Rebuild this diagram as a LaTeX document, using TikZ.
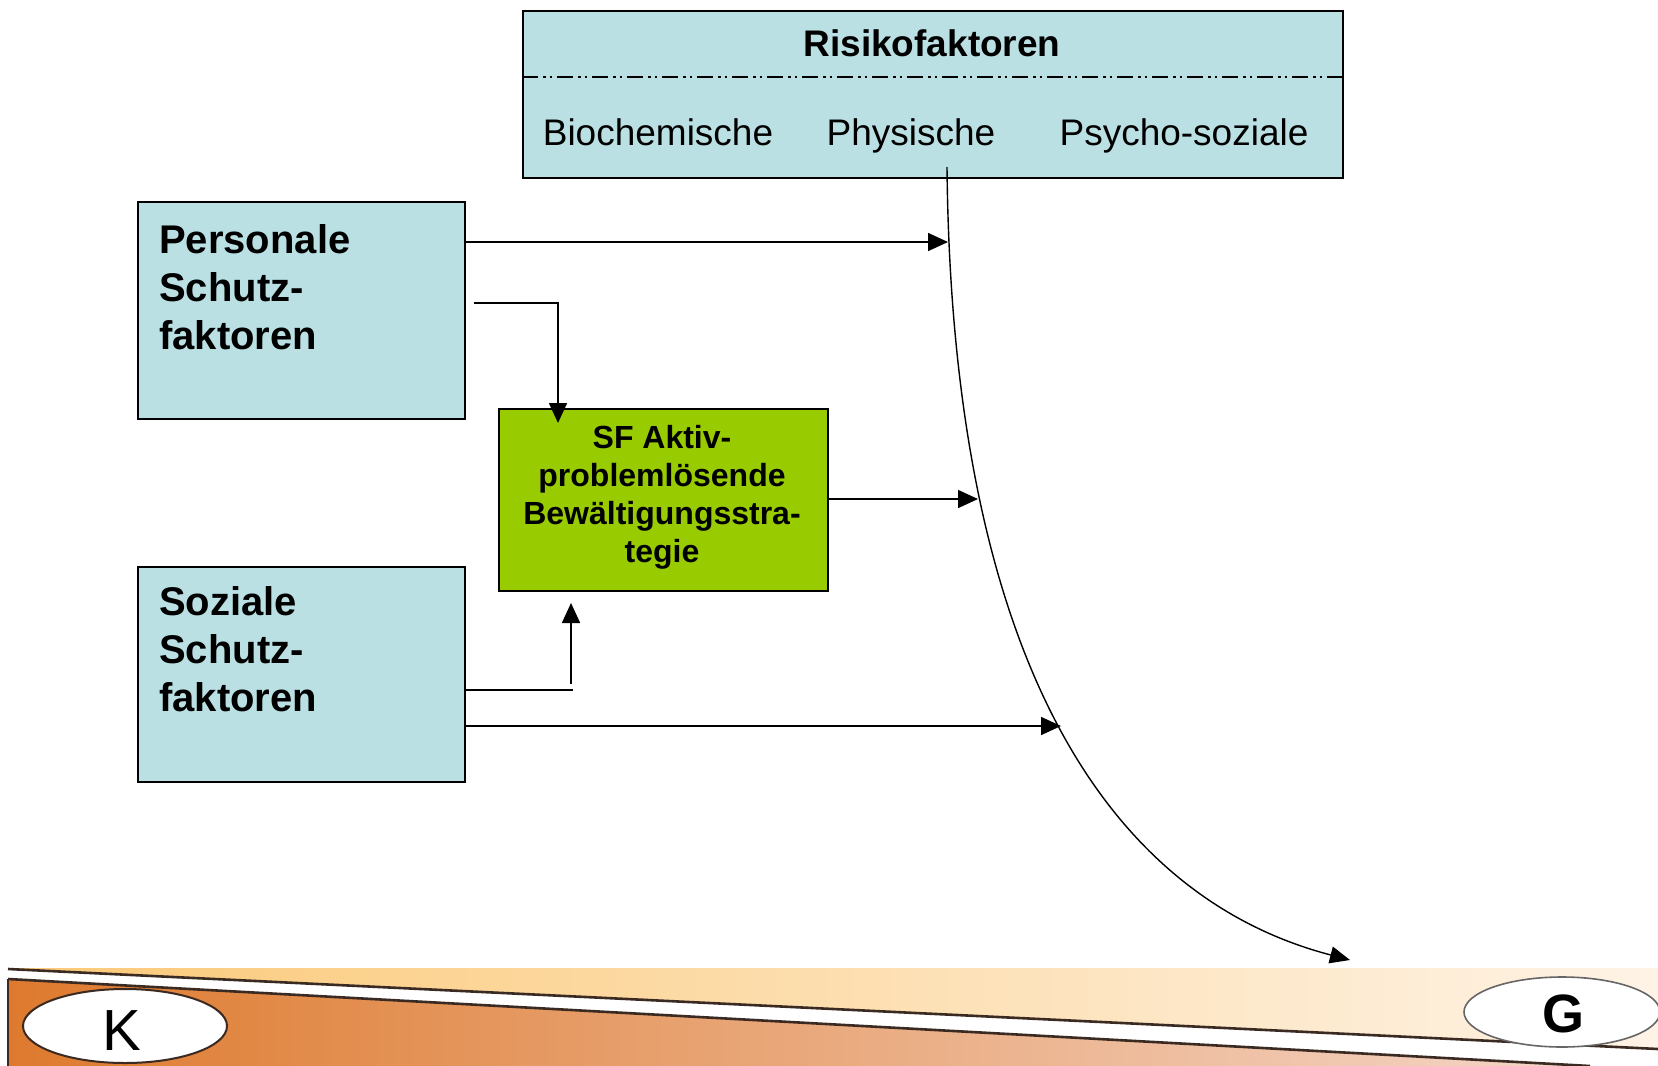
\documentclass[tikz,border=0pt]{standalone}
\usepackage{fontspec}
\setmainfont{Liberation Sans}
\usetikzlibrary{arrows.meta,shapes.geometric}
\definecolor{boxblue}{HTML}{BAE0E3}
\definecolor{sfgreen}{HTML}{99CC00}
\definecolor{barline}{HTML}{3A2A22}
\definecolor{orA}{HTML}{DE7A2E}
\definecolor{orB}{HTML}{E6A27C}
\definecolor{orC}{HTML}{F4D6C8}
\definecolor{yeA}{HTML}{FBC978}
\definecolor{yeB}{HTML}{FEF3E6}
\begin{document}
\begin{tikzpicture}[x=1pt,y=-1pt,
  box/.style={draw=black, line width=1.8pt, fill=boxblue, inner sep=0pt, anchor=north west},
  gbox/.style={draw=black, line width=1.8pt, fill=sfgreen, inner sep=0pt, anchor=north west},
  arr/.style={-{Triangle[length=20pt,width=18pt]}, line width=1.6pt},
  ln/.style={line width=1.6pt},
  big/.style={font=\fontsize{40}{48}\selectfont\bfseries, align=left, inner sep=0pt, anchor=west},
  reg/.style={font=\fontsize{37}{44}\selectfont, inner sep=0pt, anchor=base},
  small/.style={font=\fontsize{32}{38}\selectfont\bfseries, align=center, inner sep=0pt}]
\useasboundingbox (0,0) rectangle (1658,1066);
\fill[white] (0,0) rectangle (1658,1066);

% footer bar
\begin{scope}
\clip (0,0) rectangle (1658,1066);
\shade[left color=yeA, right color=yeB] (8,968) -- (1658,968) -- (1658,1049) -- (8,969) -- cycle;
\shade[left color=orA, middle color=orB, right color=orC] (8,979) -- (1590,1066) -- (8,1066) -- cycle;
\fill[white] (8,969) -- (1658,1049) -- (1658,1070) -- (1590,1066) -- (8,979) -- cycle;
\draw[barline, line width=2.6pt] (8,969) -- (1658,1049);
\draw[barline, line width=2.6pt] (8,979) -- (1590,1066);
\draw[barline, line width=2.6pt] (8,979) -- (8,1066);
\node[ellipse, draw=barline, line width=2pt, fill=white, minimum width=204pt, minimum height=74pt, inner sep=0pt] (kell) at (125,1026) {};
\node[font=\fontsize{58}{58}\selectfont, inner sep=0pt] (klab) at (122,1031) {K};
\node[ellipse, draw=gray!80!black, line width=1.6pt, fill=white, minimum width=196pt, minimum height=70pt, inner sep=0pt] (gell) at (1562,1012) {};
\node[font=\fontsize{54}{54}\selectfont\bfseries, inner sep=0pt] (glab) at (1563,1014) {G};
\end{scope}

% Risikofaktoren box
\node[box, minimum width=820pt, minimum height=167pt] (risk) at (522,10) {};
\node[font=\fontsize{37}{44}\selectfont\bfseries, inner sep=0pt] (risktitle) at (932,43) {Risikofaktoren};
\draw[line width=1.6pt, dash pattern=on 16pt off 5pt on 2.5pt off 4pt on 2.5pt off 5pt] (risk.west |- 0,77) -- (risk.east |- 0,77);
\node[reg] (bio) at (658,145) {Biochemische};
\node[reg] (phys) at (911,145) {Physische};
\node[reg] (psy) at (1184,145) {Psycho-soziale};

% protective factor boxes
\node[box, minimum width=327pt, minimum height=217pt] (pers) at (137,201) {};
\node[big] (perstext) at (159,287) {Personale\\Schutz-\\faktoren};
\node[box, minimum width=327pt, minimum height=215pt] (soz) at (137,566) {};
\node[big] (soztext) at (159,649) {Soziale\\Schutz-\\faktoren};

% green box
\node[gbox, minimum width=329pt, minimum height=182pt] (sf) at (498,408) {};
\node[small] (sftext) at (662,497) {SF Aktiv-\\problemlösende\\Bewältigungsstra-\\tegie};

% coordinates
\coordinate (cstart) at (947,167);
\coordinate (cend) at (1350,960);
\coordinate (a1end) at (948,242);
\coordinate (a2start) at (474,303);
\coordinate (a2knee) at (558,303);
\coordinate (a2end) at (558,423);
\coordinate (a3end) at (978,499);
\coordinate (a4end) at (573,690);
\coordinate (a5start) at (571,684);
\coordinate (a5end) at (571,603);
\coordinate (a6end) at (1061,726);

% curve
\draw[-{Triangle[length=20pt,width=17pt]}, line width=1.4pt] (cstart) .. controls (952,680) and (1120,900) .. (cend);

% arrows
\draw[arr] (pers.east |- a1end) -- (a1end);
\draw[arr] (a2start) -- (a2knee) -- (a2end);
\draw[arr] (sf.east |- a3end) -- (a3end);
\draw[ln] (soz.east |- a4end) -- (a4end);
\draw[arr] (a5start) -- (a5end);
\draw[arr] (soz.east |- a6end) -- (a6end);
\end{tikzpicture}
\end{document}
